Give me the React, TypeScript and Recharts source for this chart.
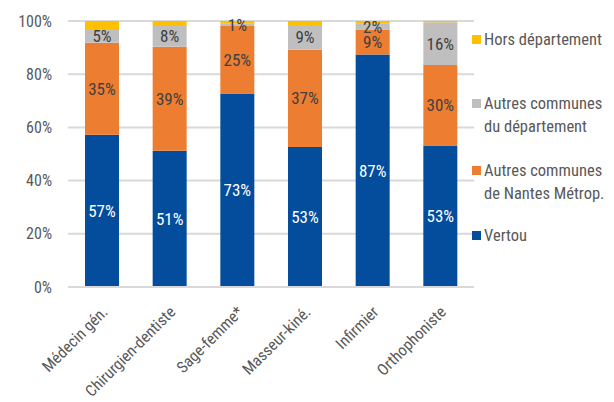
import React from "react";
import { BarChart, Bar, XAxis, YAxis, CartesianGrid, LabelList } from "recharts";

const professions = ["Médecin gén.", "Chirurgien-dentiste", "Sage-femme*", "Masseur-kiné.", "Infirmier", "Orthophoniste"];
const vertou = [57.2, 51.2, 72.7, 52.6, 87.4, 53.2];
const nantesMetrop = [34.6, 39.1, 25.4, 36.6, 9.4, 30.3];
const departement = [5.2, 7.8, 1.1, 9.3, 2.2, 16.0];
const horsDepartement = [3.0, 1.9, 0.8, 1.5, 1.0, 0.5];
const yTicks = [0, 20, 40, 60, 80, 100];

const FONT = "'Liberation Sans Narrow', 'Roboto Condensed', Arial, sans-serif";

const series = [
	{ key: "vertou", name: "Vertou", color: "#034D9C", labelColor: "#ffffff", label: true },
	{ key: "nantes", name: "Autres communes\nde Nantes Métrop.", color: "#ED7D31", labelColor: "#404040", label: true },
	{ key: "dep", name: "Autres communes\ndu département", color: "#BFBFBF", labelColor: "#404040", label: true },
	{ key: "hors", name: "Hors département", color: "#FFC000", labelColor: "#404040", label: false },
];

const data = professions.map((p, i) => ({
	name: p,
	vertou: vertou[i],
	nantes: nantesMetrop[i],
	dep: departement[i],
	hors: horsDepartement[i],
}));

const XTick = (props: any) => {
	const { x, y, payload } = props;
	return (
		<text
			x={x + 7}
			y={y + 18}
			transform={`rotate(-45, ${x + 7}, ${y + 18})`}
			textAnchor="end"
			fill="#595959"
			fontSize={16}
			fontFamily={FONT}
		>
			{payload.value}
		</text>
	);
};

// legend drawn on the right, top to bottom in reverse stack order
const LegendBox = () => {
	const items = [...series].reverse();
	const tops = [30, 94, 161, 226];
	return (
		<div style={{ position: "absolute", left: 472, top: 0, width: 142, height: 300, fontFamily: FONT, fontSize: 16.5, color: "#595959" }}>
			{items.map((s, i) => (
				<div key={s.key} style={{ position: "absolute", top: tops[i], left: 0, display: "flex", alignItems: "flex-start" }}>
					<div style={{ width: 9, height: 9, background: s.color, marginTop: 5, marginRight: 3 }} />
					<div style={{ whiteSpace: "pre", lineHeight: "23px", marginTop: -2 }}>{s.name}</div>
				</div>
			))}
		</div>
	);
};

export default function App() {
	return (
		<div style={{ position: "absolute", left: 0, top: 0, width: 614, height: 402, background: "#fff" }}>
			<BarChart
				width={614}
				height={402}
				data={data}
				margin={{ top: 21, right: 140, bottom: 0, left: 0 }}
				barSize={34}
			>
				<CartesianGrid vertical={false} stroke="#D9D9D9" strokeWidth={2} />
				<XAxis
					dataKey="name"
					interval={0}
					tickLine={false}
					axisLine={{ stroke: "#D9D9D9", strokeWidth: 2 }}
					tick={<XTick />}
					height={115}
				/>
				<YAxis
					domain={[0, 100]}
					ticks={yTicks}
					tickFormatter={(v: number) => `${v}%`}
					axisLine={false}
					tickLine={false}
					tickSize={0}
					tickMargin={16}
					width={68}
					tick={{ fill: "#595959", fontSize: 16, fontFamily: FONT }}
				/>
				{series.map((s) => (
					<Bar key={s.key} dataKey={s.key} stackId="a" fill={s.color} isAnimationActive={false}>
						{s.label && (
							<LabelList
								dataKey={s.key}
								position="center"
								formatter={(v: any) => `${Math.round(Number(v))}%`}
								fill={s.labelColor}
								fontSize={17}
								fontFamily={FONT}
							/>
						)}
					</Bar>
				))}
			</BarChart>
			<LegendBox />
		</div>
	);
}
